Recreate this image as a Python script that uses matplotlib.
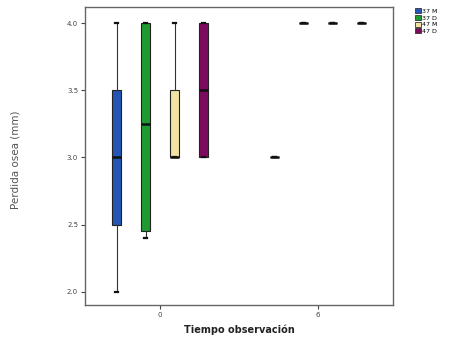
import matplotlib
matplotlib.use("Agg")
import matplotlib.pyplot as plt
from matplotlib.patches import Patch

groups = [0, 6]
series = ["37 M", "37 D", "47 M", "47 D"]
colors = ["#2455b5", "#1e9a30", "#f3e3a2", "#7d0a5f"]
offsets = [-1.65, -0.55, 0.55, 1.65]

# stats per series per group: (whislo, q1, med, q3, whishi)
stats_g0 = [
    (2.0, 2.5, 3.0, 3.5, 4.0),
    (2.4, 2.45, 3.25, 4.0, 4.0),
    (3.0, 3.0, 3.0, 3.5, 4.0),
    (3.0, 3.0, 3.5, 4.0, 4.0),
]
stats_g6 = [
    (3.0, 3.0, 3.0, 3.0, 3.0),
    (4.0, 4.0, 4.0, 4.0, 4.0),
    (4.0, 4.0, 4.0, 4.0, 4.0),
    (4.0, 4.0, 4.0, 4.0, 4.0),
]
all_stats = [stats_g0, stats_g6]

fig = plt.figure(figsize=(4.55, 3.39), dpi=100)
ax = fig.add_axes([0.187, 0.100, 0.677, 0.879])

for g, gstats in zip(groups, all_stats):
    for i, s in enumerate(gstats):
        lo, q1, med, q3, hi = s
        st = [dict(whislo=lo, q1=q1, med=med, q3=q3, whishi=hi, fliers=[])]
        ax.bxp(st, positions=[g + offsets[i]], widths=0.36, patch_artist=True,
               showfliers=False,
               boxprops=dict(facecolor=colors[i], edgecolor="#222222", linewidth=0.8),
               medianprops=dict(color="#111111", linewidth=1.8),
               whiskerprops=dict(color="#333333", linewidth=0.8),
               capprops=dict(color="#111111", linewidth=1.6),
               capwidths=0.12)

ax.set_xlim(-2.85, 8.86)
ax.set_ylim(1.9, 4.12)
ax.set_xticks(groups)
ax.set_xticklabels([str(g) for g in groups], fontsize=5, color="#444444")
ax.set_yticks([2.0, 2.5, 3.0, 3.5, 4.0])
ax.set_yticklabels(["2.0", "2.5", "3.0", "3.5", "4.0"], fontsize=5, color="#444444")
ax.tick_params(length=3, width=0.8, color="#444444", pad=2)
for sp in ax.spines.values():
    sp.set_color("#666666")
    sp.set_linewidth(1.0)

ax.set_xlabel("Tiempo observación", fontsize=7, fontweight="bold", color="#222222", labelpad=5)
fig.text(0.035, 0.53, "Perdida osea (mm)", rotation=90, fontsize=7.5, color="#555555",
         ha="center", va="center")

handles = [Patch(facecolor=c, edgecolor="#333333", linewidth=0.6) for c in colors]
fig.legend(handles, series, loc="upper left", bbox_to_anchor=(0.905, 0.985),
           frameon=False, fontsize=4.5, handlelength=0.9, handleheight=0.9,
           labelspacing=0.15, handletextpad=0.3, borderpad=0.0)

fig.savefig("out.png", dpi=100)
